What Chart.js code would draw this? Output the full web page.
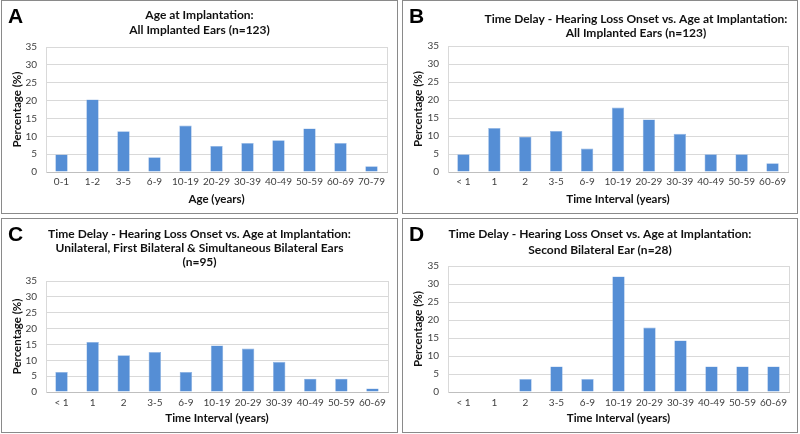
<!DOCTYPE html>
<html>
<head>
<meta charset="utf-8">
<script src="https://cdn.jsdelivr.net/npm/chart.js@4.4.1/dist/chart.umd.min.js"></script>
<style>
  body { margin: 0; background: #fff; width: 800px; height: 434px; position: relative; overflow: hidden; }
  .panel { position: absolute; border: 1px solid #8a8a8a; box-sizing: border-box; background: #fff; }
  .panel canvas { position: absolute; left: 0; top: 0; }
  .letter { position: absolute; left: 6px; top: 3px; font: bold 21px "Liberation Sans", Arial, sans-serif; color: #000; z-index: 2; }
</style>
</head>
<body>
<div class="panel" id="pA" style="left:1px;top:0px;width:397px;height:214px;"><div class="letter">A</div><canvas id="cA"></canvas></div>
<div class="panel" id="pB" style="left:402px;top:0px;width:396px;height:214px;"><div class="letter">B</div><canvas id="cB"></canvas></div>
<div class="panel" id="pC" style="left:1px;top:218px;width:397px;height:215px;"><div class="letter">C</div><canvas id="cC"></canvas></div>
<div class="panel" id="pD" style="left:402px;top:218px;width:396px;height:215px;"><div class="letter">D</div><canvas id="cD"></canvas></div>
<script>
const ageLabels = ["0-1", "1-2", "3-5", "6-9", "10-19", "20-29", "30-39", "40-49", "50-59", "60-69", "70-79"];
const intervalLabels = ["< 1", "1", "2", "3-5", "6-9", "10-19", "20-29", "30-39", "40-49", "50-59", "60-69"];
const yTicks = [0, 5, 10, 15, 20, 25, 30, 35];

const ageAllEars = [4.9, 20.3, 11.4, 4.1, 13.0, 7.3, 8.1, 8.9, 12.2, 8.1, 1.6];
const delayAllEars = [4.9, 12.2, 9.8, 11.4, 6.5, 17.9, 14.6, 10.6, 4.9, 4.9, 2.4];
const delayFirstEars = [6.3, 15.8, 11.6, 12.6, 6.3, 14.7, 13.7, 9.5, 4.2, 4.2, 1.1];
const delaySecondEar = [0, 0, 3.6, 7.1, 3.6, 32.1, 17.9, 14.3, 7.1, 7.1, 7.1];

const titleA = ["Age at Implantation:", "All Implanted Ears (n=123)"];
const titleB = ["Time Delay - Hearing Loss Onset vs. Age at Implantation:", "All Implanted Ears (n=123)"];
const titleC = ["Time Delay - Hearing Loss Onset vs. Age at Implantation:", "Unilateral, First Bilateral & Simultaneous Bilateral Ears", "(n=95)"];
const titleD = ["Time Delay - Hearing Loss Onset vs. Age at Implantation:", "Second Bilateral Ear (n=28)"];

const FONT = "Lato, 'Open Sans', sans-serif";
const BAR = "#558ed5";

// panel title (centre can be shifted, panel B sits right of centre) + faint right edge of plot
const panelDecor = {
    id: "panelDecor",
    afterDraw(chart, args, o) {
        const { ctx, chartArea: a } = chart;
        ctx.save();
        ctx.strokeStyle = "#d9d9d9";
        ctx.lineWidth = 1;
        ctx.beginPath();
        ctx.moveTo(a.right + 0.5, a.top);
        ctx.lineTo(a.right + 0.5, a.bottom);
        ctx.stroke();

        ctx.fillStyle = "#111";
        ctx.font = "bold 12px " + FONT;
        ctx.textAlign = "center";
        ctx.textBaseline = "middle";
        const cx = chart.width / 2 + o.dx;
        o.lines.forEach((line, i) => ctx.fillText(line, cx, o.y + i * o.step));
        ctx.restore();
    }
};

function makeChart(id, panelId, labels, values, title, xTitle, o) {
    const panel = document.getElementById(panelId);
    const canvas = document.getElementById(id);
    canvas.width = panel.clientWidth;
    canvas.height = panel.clientHeight;
    const xHeight = canvas.height - o.bottom;
    return new Chart(canvas.getContext("2d"), {
        type: "bar",
        data: {
            labels: labels,
            datasets: [{
                data: values,
                backgroundColor: BAR,
                borderColor: "#8fb4e3",
                borderWidth: 0.6,
                categoryPercentage: 1.0,
                barPercentage: 0.4,
            }],
        },
        options: {
            responsive: false,
            animation: false,
            devicePixelRatio: 1,
            layout: { padding: { left: 8, right: canvas.width - o.right, top: o.top, bottom: 0 } },
            plugins: {
                legend: { display: false },
                tooltip: { enabled: false },
                title: { display: false },
                panelDecor: { lines: title, dx: o.dx || 0, y: o.titleY, step: o.step || 15 },
            },
            scales: {
                x: {
                    afterFit: axis => { axis.height = xHeight; },
                    grid: { display: false, drawTicks: false },
                    border: { color: "#bfbfbf" },
                    ticks: { color: "#404040", font: { family: FONT, size: 10 }, maxRotation: 0, autoSkip: false, padding: o.tickPad },
                    title: { display: true, text: xTitle, color: "#111", font: { family: FONT, size: 11.5, weight: "bold" }, padding: { top: 0, bottom: 7 } },
                },
                y: {
                    min: 0,
                    max: 35,
                    afterFit: axis => { axis.width = o.left - 8; },
                    afterBuildTicks: axis => { axis.ticks = yTicks.map(v => ({ value: v })); },
                    grid: { color: "#d9d9d9", drawTicks: false },
                    border: { color: "#d9d9d9" },
                    ticks: { color: "#404040", font: { family: FONT, size: 10 }, padding: 9, autoSkip: false },
                    title: { display: true, text: "Percentage (%)", color: "#111", font: { family: FONT, size: 11.5, weight: "bold" }, padding: { top: 0, bottom: 0 } },
                },
            },
        },
        plugins: [panelDecor],
    });
}

makeChart("cA", "pA", ageLabels, ageAllEars, titleA, "Age (years)",
    { left: 44, right: 385, top: 46, bottom: 171, tickPad: 4, titleY: 14, step: 15 });
makeChart("cB", "pB", intervalLabels, delayAllEars, titleB, "Time Interval (years)",
    { left: 45, right: 385, top: 45, bottom: 171, tickPad: 4, titleY: 18, step: 14, dx: 36 });
makeChart("cC", "pC", intervalLabels, delayFirstEars, titleC, "Time Interval (years)",
    { left: 44, right: 386, top: 62, bottom: 173, tickPad: 5, titleY: 15, step: 14 });
makeChart("cD", "pD", intervalLabels, delaySecondEar, titleD, "Time Interval (years)",
    { left: 45, right: 386, top: 47, bottom: 173, tickPad: 5, titleY: 15, step: 16 });
</script>
</body>
</html>
